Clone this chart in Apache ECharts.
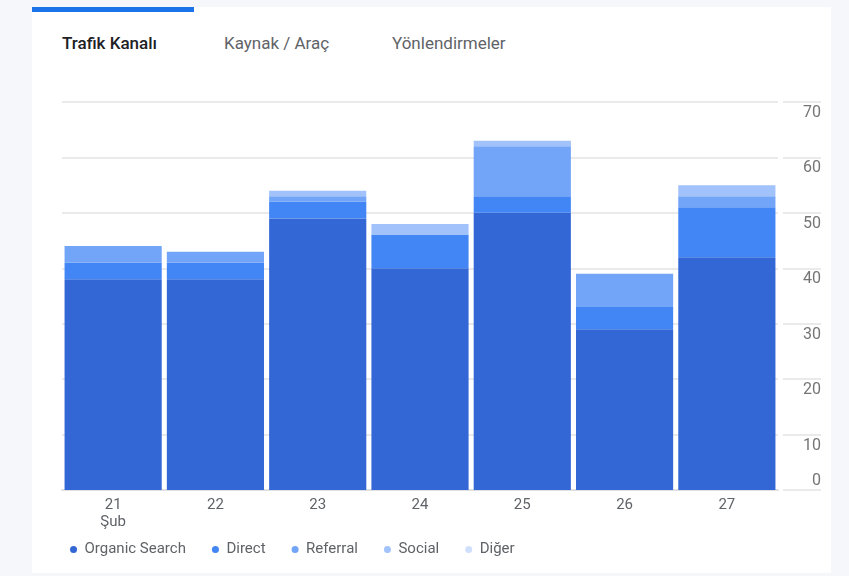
<!DOCTYPE html>
<html>
<head>
<meta charset="utf-8">
<script src="https://cdn.jsdelivr.net/npm/echarts@6/dist/echarts.min.js"></script>
<style>
  html, body { margin: 0; padding: 0; background: #f5f7fa; font-family: Roboto, sans-serif; }
  .card { position: absolute; left: 32px; top: 7px; width: 799px; height: 566px; background: #fff; }
  .tabbar { position: absolute; left: 0; top: 0; width: 162px; height: 5px; background: #1a73e8; }
  .tab { position: absolute; top: 26px; font-size: 17px; line-height: 20px; color: #5f6368; }
  .tab.active { color: #202124; font-weight: 500; }
  #chart { position: absolute; left: 0; top: 0; width: 849px; height: 576px; }
</style>
</head>
<body>
<div class="card">
  <div class="tabbar"></div>
  <div class="tab active" style="left:30px">Trafik Kanalı</div>
  <div class="tab" style="left:192px">Kaynak / Araç</div>
  <div class="tab" style="left:360px">Yönlendirmeler</div>
</div>
<div id="chart"></div>
<script>
// gün etiketleri (Şubat)
var days = ['21\nŞub', '22', '23', '24', '25', '26', '27'];
var yTicks = { min: 0, max: 70, interval: 10 };

// kanal başına oturum sayıları
var organic  = [38, 38, 49, 40, 50, 29, 42];
var direct   = [3, 3, 3, 6, 3, 4, 9];
var referral = [3, 2, 1, 0, 9, 6, 2];
var social   = [0, 0, 1, 2, 1, 0, 2];
var diger    = [0, 0, 0, 0, 0, 0, 0];

var names  = ['Organic Search', 'Direct', 'Referral', 'Social', 'Diğer'];
var colors = ['#3367d6', '#4285f4', '#72a4f7', '#a1c2fa', '#d0e0fc'];

var chart = echarts.init(document.getElementById('chart'));

function bar(name, data, i) {
    return {
        name: name,
        type: 'bar',
        stack: 'toplam',
        barCategoryGap: '5%',
        itemStyle: { color: colors[i] },
        data: data
    };
}

var option = {
    animation: false,
    color: colors,
    textStyle: { fontFamily: 'Roboto' },
    legend: {
        left: 65,
        top: 537,
        icon: 'circle',
        itemWidth: 12,
        itemHeight: 7,
        itemGap: 26,
        textStyle: { color: '#5f6368', fontSize: 15 },
        data: names
    },
    grid: [
        { left: 62, right: 71, top: 102, bottom: 86 },
        { left: 783, right: 28, top: 102, bottom: 86 },
        { left: 783, right: 28, top: 102, bottom: 86 }
    ],
    xAxis: [
        {
            type: 'category',
            gridIndex: 0,
            data: days,
            axisLine: { lineStyle: { color: '#e0e0e0', width: 2 } },
            axisTick: { alignWithLabel: true, length: 6, lineStyle: { color: '#cccccc' } },
            axisLabel: { color: '#5f6368', fontSize: 15, lineHeight: 17, margin: 7 }
        },
        { type: 'value', gridIndex: 1, min: 0, max: 1, show: false },
        { type: 'value', gridIndex: 2, min: 0, max: 1, show: false }
    ],
    yAxis: [
        {
            type: 'value',
            gridIndex: 0,
            min: yTicks.min, max: yTicks.max, interval: yTicks.interval,
            axisLabel: { show: false },
            axisLine: { show: false },
            axisTick: { show: false },
            splitLine: { lineStyle: { color: '#e3e3e3', width: 1.5 } }
        },
        {
            type: 'value',
            gridIndex: 1,
            position: 'right',
            min: yTicks.min, max: yTicks.max, interval: yTicks.interval,
            axisLine: { show: false },
            axisTick: { show: false },
            splitLine: { lineStyle: { color: '#e3e3e3', width: 1.5 } },
            axisLabel: {
                inside: true,
                margin: 0,
                verticalAlign: 'top',
                padding: [3, 0, 0, 0],
                color: '#757575',
                fontSize: 16,
                formatter: function (v) { return v === 0 ? '' : String(v); }
            }
        },
        {
            type: 'value',
            gridIndex: 2,
            position: 'right',
            min: yTicks.min, max: yTicks.max, interval: yTicks.interval,
            axisLine: { show: false },
            axisTick: { show: false },
            splitLine: { show: false },
            axisLabel: {
                inside: true,
                margin: 0,
                verticalAlign: 'bottom',
                padding: [0, 0, 1, 0],
                color: '#757575',
                fontSize: 16,
                formatter: function (v) { return v === 0 ? '0' : ''; }
            }
        }
    ],
    series: [
        bar(names[0], organic, 0),
        bar(names[1], direct, 1),
        bar(names[2], referral, 2),
        bar(names[3], social, 3),
        bar(names[4], diger, 4)
    ]
};

chart.setOption(option);
</script>
</body>
</html>
